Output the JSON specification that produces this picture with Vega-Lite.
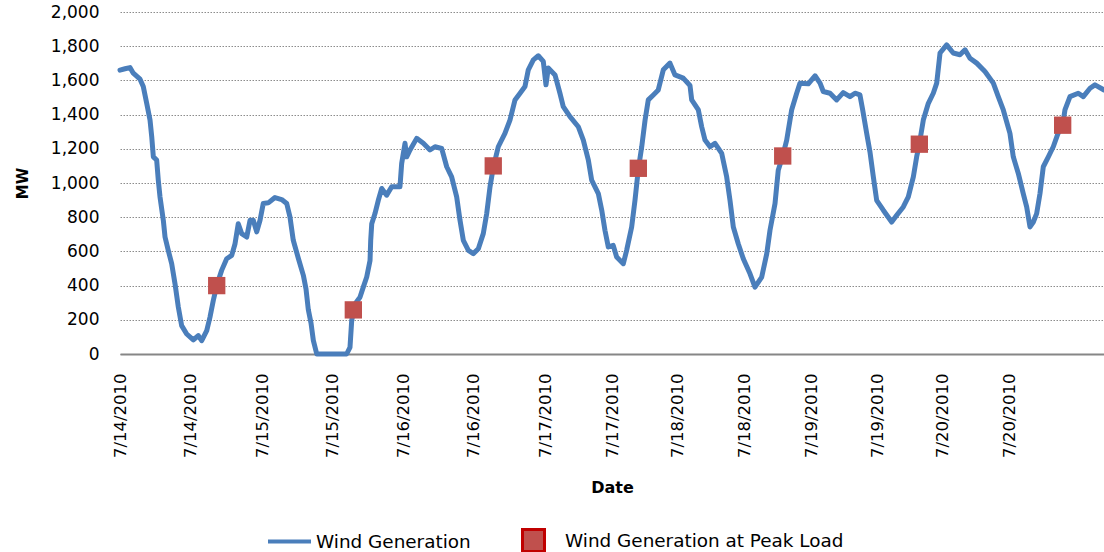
{
  "$schema": "https://vega.github.io/schema/vega-lite/v6.json",
  "width": 984,
  "height": 342,
  "autosize": "none",
  "padding": {"left": 120, "top": 12, "right": 0, "bottom": 198},
  "background": "white",
  "config": {
    "view": {"stroke": null},
    "font": "DejaVu Sans"
  },
  "datasets": {
    "wind": [
      {"t": "2010-07-14T00:00", "mw": 1660},
      {"t": "2010-07-14T00:53", "mw": 1668},
      {"t": "2010-07-14T01:45", "mw": 1675},
      {"t": "2010-07-14T02:20", "mw": 1642},
      {"t": "2010-07-14T03:31", "mw": 1607},
      {"t": "2010-07-14T04:05", "mw": 1564},
      {"t": "2010-07-14T04:41", "mw": 1466},
      {"t": "2010-07-14T05:16", "mw": 1369},
      {"t": "2010-07-14T05:34", "mw": 1271},
      {"t": "2010-07-14T05:51", "mw": 1153},
      {"t": "2010-07-14T06:26", "mw": 1134},
      {"t": "2010-07-14T06:43", "mw": 1017},
      {"t": "2010-07-14T07:01", "mw": 919},
      {"t": "2010-07-14T07:36", "mw": 782},
      {"t": "2010-07-14T07:54", "mw": 684},
      {"t": "2010-07-14T08:28", "mw": 606},
      {"t": "2010-07-14T09:04", "mw": 528},
      {"t": "2010-07-14T09:39", "mw": 411},
      {"t": "2010-07-14T10:14", "mw": 274},
      {"t": "2010-07-14T10:49", "mw": 166},
      {"t": "2010-07-14T11:42", "mw": 117},
      {"t": "2010-07-14T12:52", "mw": 82},
      {"t": "2010-07-14T13:44", "mw": 108},
      {"t": "2010-07-14T14:20", "mw": 78},
      {"t": "2010-07-14T15:13", "mw": 137},
      {"t": "2010-07-14T15:47", "mw": 215},
      {"t": "2010-07-14T16:22", "mw": 313},
      {"t": "2010-07-14T16:58", "mw": 400},
      {"t": "2010-07-14T17:50", "mw": 489},
      {"t": "2010-07-14T18:43", "mw": 557},
      {"t": "2010-07-14T19:36", "mw": 577},
      {"t": "2010-07-14T20:11", "mw": 645},
      {"t": "2010-07-14T20:45", "mw": 762},
      {"t": "2010-07-14T21:21", "mw": 704},
      {"t": "2010-07-14T22:14", "mw": 684},
      {"t": "2010-07-14T22:49", "mw": 782},
      {"t": "2010-07-14T23:23", "mw": 782},
      {"t": "2010-07-14T23:59", "mw": 714},
      {"t": "2010-07-15T00:34", "mw": 782},
      {"t": "2010-07-15T01:08", "mw": 880},
      {"t": "2010-07-15T02:01", "mw": 884},
      {"t": "2010-07-15T03:11", "mw": 915},
      {"t": "2010-07-15T04:22", "mw": 903},
      {"t": "2010-07-15T05:15", "mw": 880},
      {"t": "2010-07-15T05:49", "mw": 802},
      {"t": "2010-07-15T06:24", "mw": 665},
      {"t": "2010-07-15T07:17", "mw": 560},
      {"t": "2010-07-15T08:10", "mw": 460},
      {"t": "2010-07-15T08:38", "mw": 380},
      {"t": "2010-07-15T09:02", "mw": 260},
      {"t": "2010-07-15T09:31", "mw": 180},
      {"t": "2010-07-15T09:55", "mw": 80},
      {"t": "2010-07-15T10:31", "mw": 0},
      {"t": "2010-07-15T15:46", "mw": 0},
      {"t": "2010-07-15T16:21", "mw": 39},
      {"t": "2010-07-15T16:39", "mw": 196},
      {"t": "2010-07-15T17:14", "mw": 293},
      {"t": "2010-07-15T18:06", "mw": 332},
      {"t": "2010-07-15T18:41", "mw": 391},
      {"t": "2010-07-15T19:17", "mw": 450},
      {"t": "2010-07-15T19:52", "mw": 547},
      {"t": "2010-07-15T19:59", "mw": 665},
      {"t": "2010-07-15T20:10", "mw": 762},
      {"t": "2010-07-15T20:44", "mw": 821},
      {"t": "2010-07-15T21:19", "mw": 899},
      {"t": "2010-07-15T21:55", "mw": 968},
      {"t": "2010-07-15T22:47", "mw": 929},
      {"t": "2010-07-15T23:40", "mw": 978},
      {"t": "2010-07-16T01:07", "mw": 978},
      {"t": "2010-07-16T01:25", "mw": 1114},
      {"t": "2010-07-16T02:00", "mw": 1232},
      {"t": "2010-07-16T02:18", "mw": 1153},
      {"t": "2010-07-16T02:53", "mw": 1193},
      {"t": "2010-07-16T04:03", "mw": 1261},
      {"t": "2010-07-16T05:13", "mw": 1232},
      {"t": "2010-07-16T06:23", "mw": 1193},
      {"t": "2010-07-16T07:16", "mw": 1212},
      {"t": "2010-07-16T08:26", "mw": 1202},
      {"t": "2010-07-16T09:19", "mw": 1095},
      {"t": "2010-07-16T10:11", "mw": 1036},
      {"t": "2010-07-16T11:04", "mw": 919},
      {"t": "2010-07-16T11:39", "mw": 782},
      {"t": "2010-07-16T12:14", "mw": 665},
      {"t": "2010-07-16T13:07", "mw": 606},
      {"t": "2010-07-16T13:59", "mw": 587},
      {"t": "2010-07-16T14:52", "mw": 616},
      {"t": "2010-07-16T15:44", "mw": 704},
      {"t": "2010-07-16T16:20", "mw": 821},
      {"t": "2010-07-16T16:55", "mw": 978},
      {"t": "2010-07-16T17:29", "mw": 1090},
      {"t": "2010-07-16T18:22", "mw": 1212},
      {"t": "2010-07-16T19:32", "mw": 1290},
      {"t": "2010-07-16T20:25", "mw": 1368},
      {"t": "2010-07-16T21:18", "mw": 1486},
      {"t": "2010-07-16T22:11", "mw": 1525},
      {"t": "2010-07-16T23:03", "mw": 1564},
      {"t": "2010-07-16T23:38", "mw": 1662},
      {"t": "2010-07-17T00:31", "mw": 1720},
      {"t": "2010-07-17T01:23", "mw": 1744},
      {"t": "2010-07-17T02:16", "mw": 1711},
      {"t": "2010-07-17T02:44", "mw": 1574},
      {"t": "2010-07-17T03:08", "mw": 1672},
      {"t": "2010-07-17T04:19", "mw": 1632},
      {"t": "2010-07-17T05:11", "mw": 1525},
      {"t": "2010-07-17T05:46", "mw": 1447},
      {"t": "2010-07-17T06:57", "mw": 1388},
      {"t": "2010-07-17T08:24", "mw": 1329},
      {"t": "2010-07-17T09:17", "mw": 1251},
      {"t": "2010-07-17T10:10", "mw": 1134},
      {"t": "2010-07-17T10:45", "mw": 1017},
      {"t": "2010-07-17T11:55", "mw": 938},
      {"t": "2010-07-17T12:31", "mw": 841},
      {"t": "2010-07-17T13:05", "mw": 723},
      {"t": "2010-07-17T13:40", "mw": 626},
      {"t": "2010-07-17T14:32", "mw": 635},
      {"t": "2010-07-17T15:08", "mw": 567},
      {"t": "2010-07-17T16:18", "mw": 528},
      {"t": "2010-07-17T16:53", "mw": 606},
      {"t": "2010-07-17T17:46", "mw": 743},
      {"t": "2010-07-17T18:21", "mw": 899},
      {"t": "2010-07-17T18:56", "mw": 1080},
      {"t": "2010-07-17T19:32", "mw": 1212},
      {"t": "2010-07-17T20:07", "mw": 1368},
      {"t": "2010-07-17T20:41", "mw": 1486},
      {"t": "2010-07-17T21:34", "mw": 1515},
      {"t": "2010-07-17T22:26", "mw": 1544},
      {"t": "2010-07-17T23:19", "mw": 1662},
      {"t": "2010-07-18T00:29", "mw": 1701},
      {"t": "2010-07-18T01:22", "mw": 1632},
      {"t": "2010-07-18T02:49", "mw": 1613},
      {"t": "2010-07-18T04:00", "mw": 1570},
      {"t": "2010-07-18T04:18", "mw": 1486},
      {"t": "2010-07-18T05:28", "mw": 1427},
      {"t": "2010-07-18T06:03", "mw": 1329},
      {"t": "2010-07-18T06:38", "mw": 1251},
      {"t": "2010-07-18T07:31", "mw": 1212},
      {"t": "2010-07-18T08:23", "mw": 1232},
      {"t": "2010-07-18T09:34", "mw": 1173},
      {"t": "2010-07-18T10:26", "mw": 1036},
      {"t": "2010-07-18T11:01", "mw": 899},
      {"t": "2010-07-18T11:36", "mw": 743},
      {"t": "2010-07-18T12:28", "mw": 645},
      {"t": "2010-07-18T13:21", "mw": 557},
      {"t": "2010-07-18T14:32", "mw": 469},
      {"t": "2010-07-18T15:24", "mw": 391},
      {"t": "2010-07-18T16:35", "mw": 450},
      {"t": "2010-07-18T17:28", "mw": 587},
      {"t": "2010-07-18T18:02", "mw": 723},
      {"t": "2010-07-18T18:55", "mw": 880},
      {"t": "2010-07-18T19:29", "mw": 1075},
      {"t": "2010-07-18T20:16", "mw": 1158},
      {"t": "2010-07-18T20:58", "mw": 1251},
      {"t": "2010-07-18T21:50", "mw": 1427},
      {"t": "2010-07-18T22:43", "mw": 1525},
      {"t": "2010-07-18T23:18", "mw": 1584},
      {"t": "2010-07-19T00:45", "mw": 1580},
      {"t": "2010-07-19T01:56", "mw": 1627},
      {"t": "2010-07-19T02:49", "mw": 1584},
      {"t": "2010-07-19T03:23", "mw": 1535},
      {"t": "2010-07-19T04:34", "mw": 1525},
      {"t": "2010-07-19T05:44", "mw": 1486},
      {"t": "2010-07-19T06:53", "mw": 1529},
      {"t": "2010-07-19T08:04", "mw": 1505},
      {"t": "2010-07-19T08:57", "mw": 1525},
      {"t": "2010-07-19T09:49", "mw": 1515},
      {"t": "2010-07-19T10:18", "mw": 1427},
      {"t": "2010-07-19T11:00", "mw": 1290},
      {"t": "2010-07-19T11:35", "mw": 1180},
      {"t": "2010-07-19T12:10", "mw": 1036},
      {"t": "2010-07-19T12:45", "mw": 899},
      {"t": "2010-07-19T13:55", "mw": 841},
      {"t": "2010-07-19T15:23", "mw": 772},
      {"t": "2010-07-19T16:16", "mw": 811},
      {"t": "2010-07-19T17:25", "mw": 860},
      {"t": "2010-07-19T18:18", "mw": 919},
      {"t": "2010-07-19T19:11", "mw": 1036},
      {"t": "2010-07-19T19:46", "mw": 1153},
      {"t": "2010-07-19T20:14", "mw": 1227},
      {"t": "2010-07-19T20:56", "mw": 1368},
      {"t": "2010-07-19T21:49", "mw": 1466},
      {"t": "2010-07-19T22:41", "mw": 1525},
      {"t": "2010-07-19T23:17", "mw": 1584},
      {"t": "2010-07-19T23:52", "mw": 1760},
      {"t": "2010-07-20T01:02", "mw": 1808},
      {"t": "2010-07-20T02:11", "mw": 1760},
      {"t": "2010-07-20T03:22", "mw": 1750},
      {"t": "2010-07-20T04:15", "mw": 1779},
      {"t": "2010-07-20T05:07", "mw": 1730},
      {"t": "2010-07-20T06:18", "mw": 1701},
      {"t": "2010-07-20T07:45", "mw": 1652},
      {"t": "2010-07-20T09:13", "mw": 1584},
      {"t": "2010-07-20T10:05", "mw": 1505},
      {"t": "2010-07-20T10:58", "mw": 1427},
      {"t": "2010-07-20T12:08", "mw": 1290},
      {"t": "2010-07-20T12:43", "mw": 1153},
      {"t": "2010-07-20T13:36", "mw": 1056},
      {"t": "2010-07-20T14:28", "mw": 938},
      {"t": "2010-07-20T15:04", "mw": 860},
      {"t": "2010-07-20T15:39", "mw": 743},
      {"t": "2010-07-20T16:14", "mw": 772},
      {"t": "2010-07-20T16:49", "mw": 821},
      {"t": "2010-07-20T17:24", "mw": 938},
      {"t": "2010-07-20T17:59", "mw": 1095},
      {"t": "2010-07-20T18:52", "mw": 1153},
      {"t": "2010-07-20T19:44", "mw": 1212},
      {"t": "2010-07-20T20:34", "mw": 1290},
      {"t": "2010-07-20T21:23", "mw": 1338},
      {"t": "2010-07-20T21:47", "mw": 1427},
      {"t": "2010-07-20T22:40", "mw": 1505},
      {"t": "2010-07-21T00:07", "mw": 1525},
      {"t": "2010-07-21T01:00", "mw": 1505},
      {"t": "2010-07-21T02:11", "mw": 1554},
      {"t": "2010-07-21T03:03", "mw": 1574},
      {"t": "2010-07-21T04:38", "mw": 1544}
    ],
    "peaks": [
      {"t": "2010-07-14T16:58", "mw": 400},
      {"t": "2010-07-15T16:56", "mw": 258},
      {"t": "2010-07-16T17:29", "mw": 1100},
      {"t": "2010-07-17T18:56", "mw": 1086},
      {"t": "2010-07-18T20:16", "mw": 1158},
      {"t": "2010-07-19T20:14", "mw": 1227},
      {"t": "2010-07-20T21:23", "mw": 1338}
    ]
  },
  "encoding": {
    "x": {
      "field": "t",
      "type": "temporal",
      "title": "Date",
      "scale": {
        "domain": [
          {"year": 2010, "month": 7, "date": 14, "hours": 0, "minutes": 0},
          {"year": 2010, "month": 7, "date": 21, "hours": 4, "minutes": 38}
        ]
      },
      "axis": {
        "values": [
          {"year": 2010, "month": 7, "date": 14, "hours": 0, "minutes": 0},
          {"year": 2010, "month": 7, "date": 14, "hours": 12, "minutes": 17},
          {"year": 2010, "month": 7, "date": 15, "hours": 0, "minutes": 55},
          {"year": 2010, "month": 7, "date": 15, "hours": 13, "minutes": 22},
          {"year": 2010, "month": 7, "date": 16, "hours": 1, "minutes": 39},
          {"year": 2010, "month": 7, "date": 16, "hours": 13, "minutes": 56},
          {"year": 2010, "month": 7, "date": 17, "hours": 2, "minutes": 34},
          {"year": 2010, "month": 7, "date": 17, "hours": 14, "minutes": 19},
          {"year": 2010, "month": 7, "date": 18, "hours": 1, "minutes": 53},
          {"year": 2010, "month": 7, "date": 18, "hours": 13, "minutes": 39},
          {"year": 2010, "month": 7, "date": 19, "hours": 1, "minutes": 24},
          {"year": 2010, "month": 7, "date": 19, "hours": 12, "minutes": 59},
          {"year": 2010, "month": 7, "date": 20, "hours": 0, "minutes": 23},
          {"year": 2010, "month": 7, "date": 20, "hours": 12, "minutes": 8}
        ],
        "format": "%-m/%-d/%Y",
        "labelAngle": -90,
        "labelFont": "DejaVu Sans",
        "labelFontSize": 16.5,
        "labelColor": "#000000",
        "labelPadding": 19,
        "labelOverlap": false,
        "labelFlush": false,
        "ticks": false,
        "tickSize": 0,
        "grid": false,
        "domain": true,
        "domainColor": "#868686",
        "domainWidth": 2,
        "titleFont": "DejaVu Sans",
        "titleFontSize": 16,
        "titleFontWeight": "bold",
        "titleColor": "#000000",
        "titlePadding": 22
      }
    },
    "y": {
      "field": "mw",
      "type": "quantitative",
      "title": "MW",
      "scale": {"domain": [0, 2000], "nice": false, "zero": true},
      "axis": {
        "values": [0, 200, 400, 600, 800, 1000, 1200, 1400, 1600, 1800, 2000],
        "format": ",d",
        "labelFont": "DejaVu Sans",
        "labelFontSize": 17,
        "labelColor": "#000000",
        "labelPadding": 21,
        "ticks": false,
        "tickSize": 0,
        "domain": false,
        "grid": true,
        "gridColor": "#8c8c8c",
        "gridDash": [1.5, 1.5],
        "gridWidth": 1,
        "titleFont": "DejaVu Sans",
        "titleFontSize": 15,
        "titleFontWeight": "bold",
        "titleColor": "#000000",
        "titlePadding": 20
      }
    }
  },
  "layer": [
    {
      "data": {"name": "wind"},
      "mark": {"type": "line", "strokeWidth": 5, "strokeJoin": "round", "strokeCap": "round"},
      "encoding": {
        "color": {
          "datum": "Wind Generation",
          "type": "nominal",
          "scale": {"range": ["#4A7EBB"]},
          "legend": {
            "orient": "none",
            "legendX": 146,
            "legendY": 506,
            "title": null,
            "symbolType": "stroke",
            "symbolSize": 1849,
            "symbolStrokeWidth": 4,
            "labelFont": "DejaVu Sans",
            "labelFontSize": 18.4,
            "labelColor": "#000000",
            "labelOffset": 3,
            "labelLimit": 400
          }
        }
      }
    },
    {
      "data": {"name": "peaks"},
      "mark": {"type": "point", "shape": "square", "filled": true, "size": 300, "opacity": 1},
      "encoding": {
        "color": {
          "datum": "Wind Generation at Peak Load",
          "type": "nominal",
          "scale": {"range": ["#C0504D"]},
          "legend": {
            "orient": "none",
            "legendX": 401,
            "legendY": 516,
            "title": null,
            "symbolType": "square",
            "symbolSize": 484,
            "symbolStrokeColor": "#C00000",
            "symbolStrokeWidth": 3,
            "symbolOpacity": 1,
            "labelFont": "DejaVu Sans",
            "labelFontSize": 18.4,
            "labelColor": "#000000",
            "labelOffset": 19,
            "labelLimit": 400
          }
        }
      }
    }
  ],
  "resolve": {"scale": {"color": "independent"}}
}
